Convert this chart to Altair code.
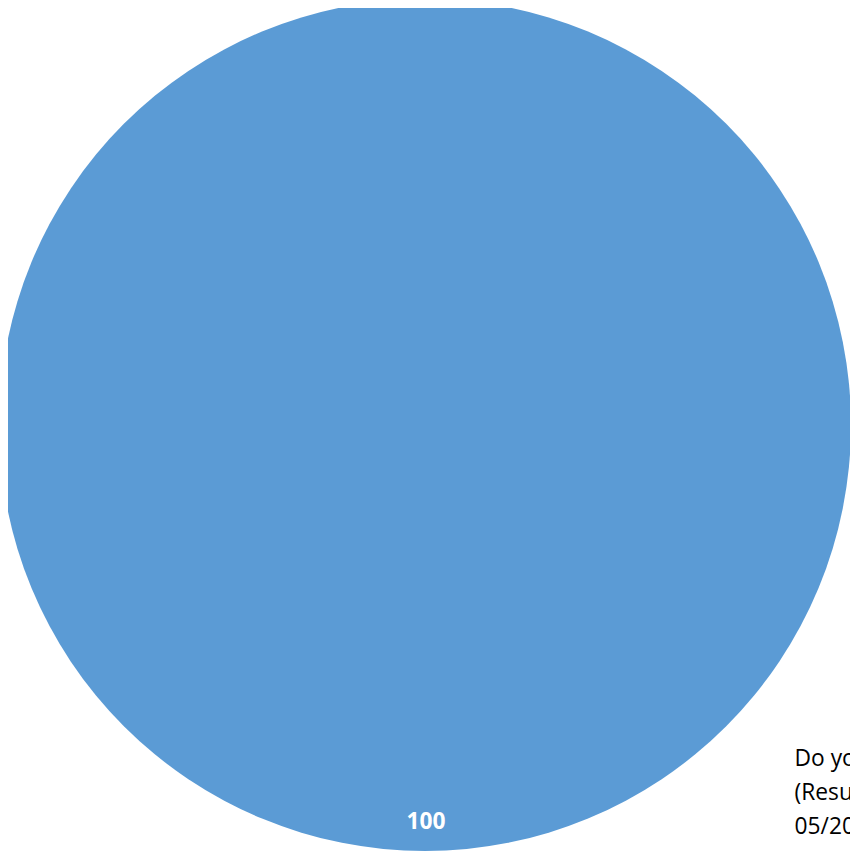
import altair as alt
import pandas as pd

categories = ["Yes"]
values = [100]
note_lines = ["Do you agree?", "(Results as of", "05/2018)"]

df = pd.DataFrame({"category": categories, "value": values})

CX, CY, R = 421, 417, 430

pie = alt.Chart(df).mark_arc(stroke=None, color="#5B9BD5").encode(
    theta=alt.Theta("value:Q", stack=True),
    x=alt.value(CX), y=alt.value(CY),
    radius=alt.value(R),
)

label = alt.Chart(df).mark_text(
    font="Open Sans", fontSize=23, fontWeight="bold", color="white", baseline="middle", align="center"
).encode(
    x=alt.value(CX + 1), y=alt.value(CY + 401), text=alt.Text("value:Q")
)

notes_df = pd.DataFrame({"line": note_lines, "i": list(range(len(note_lines)))})
notes = alt.Chart(notes_df).mark_text(
    font="Open Sans", fontSize=23, color="black", align="left", baseline="middle"
).encode(
    x=alt.value(794),
    y=alt.Y("i:Q", scale=alt.Scale(domain=[0, 2], range=[754, 823]), axis=None),
    text="line:N",
)

chart = alt.layer(pie, label, notes).properties(
    width=850, height=843, padding=0, autosize=alt.AutoSizeParams(type="none")
).configure_view(stroke=None)

chart.save("out.html", embed_options={"renderer": "svg", "actions": False})
